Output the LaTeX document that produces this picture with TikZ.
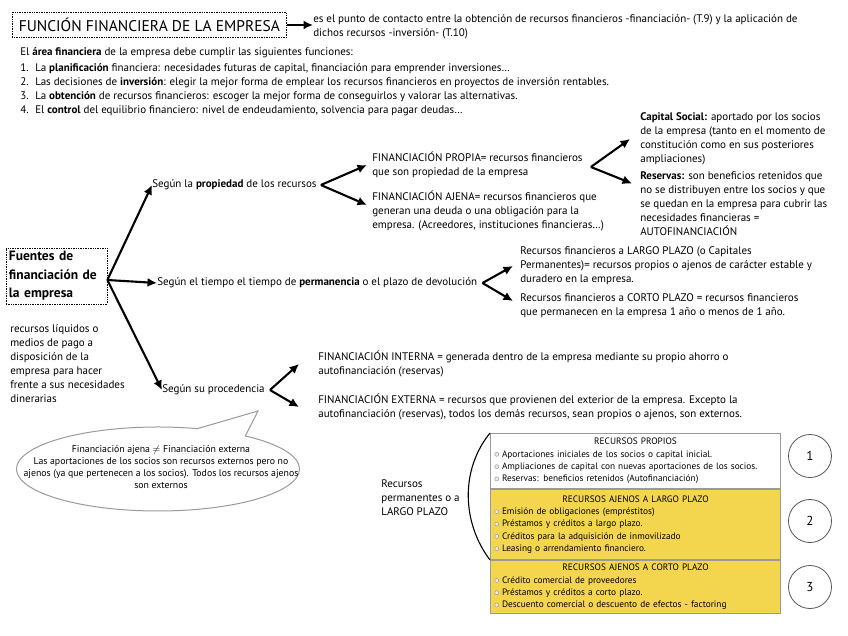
\documentclass[tikz,border=0pt]{standalone}
\usepackage{fontspec}
\setmainfont{PT Sans}
\usetikzlibrary{arrows.meta,shapes.callouts}
\definecolor{amarillo}{HTML}{F3D64E}
\definecolor{borde}{HTML}{9A9A9A}
\definecolor{aro}{HTML}{555555}
\tikzset{pl/.style={x=1pt,y=-1pt,line width=.6pt,font=\fontsize{11}{14}\selectfont},
  txt/.style={anchor=west,inner sep=0pt,align=left},
  flecha/.style={-{Latex[length=9.5pt,width=9pt]},line width=2.1pt},
  punteado/.style={draw,densely dotted,line width=.7pt},
  caja/.style={draw=borde,line width=1pt,minimum width=290pt,inner xsep=4pt,text width=282pt,align=left,anchor=north west,font=\fontsize{9.3}{12.3}\selectfont},
  aro/.style={circle,draw=aro,line width=.8pt,minimum size=43pt,font=\fontsize{13}{13}\selectfont}}
\newcommand\punto{\tikz[baseline=-.6ex]\draw[borde,fill=gray!15,line width=.5pt] (0,0) circle (2pt);\hspace{3pt}}
\newcommand\num[1]{\makebox[15pt][l]{#1}}

\begin{document}
\begin{tikzpicture}[pl]
  \useasboundingbox (0,0) rectangle (848,636);
  % cabecera
  \node[punteado,font=\fontsize{15.5}{17}\selectfont,inner xsep=4pt,minimum width=274pt,minimum height=25pt,anchor=west] (titulo) at (12,25) {FUNCIÓN FINANCIERA DE LA EMPRESA};
  \node[txt] (defin) at (313,27) {es el punto de contacto entre la obtención de recursos financieros -financiación- (T.9) y la aplicación de\\dichos recursos -inversión- (T.10)};
  \draw[flecha] (titulo.east) -- (titulo.east -| defin.west);
  \node[txt] (area) at (20,53) {El \textbf{área financiera} de la empresa debe cumplir las siguientes funciones:};
  \node[txt] (funciones) at (20,89.5) {\num{1.}La \textbf{planificación} financiera: necesidades futuras de capital, financiación para emprender inversiones\dots\\
    \num{2.}Las decisiones de \textbf{inversión}: elegir la mejor forma de emplear los recursos financieros en proyectos de inversión rentables.\\
    \num{3.}La \textbf{obtención} de recursos financieros: escoger la mejor forma de conseguirlos y valorar las alternativas.\\
    \num{4.}El \textbf{control} del equilibrio financiero: nivel de endeudamiento, solvencia para pagar deudas\dots};

  % fuentes
  \node[punteado,font=\fontsize{13.5}{18.5}\selectfont\bfseries,align=left,text width=95pt,minimum width=101pt,minimum height=54pt,inner xsep=3pt] (fuentes) at (56.5,276) {Fuentes de\\financiación de\\la empresa};
  \node[txt] (liquidos) at (10,364) {recursos líquidos o\\medios de pago a\\disposición de la\\empresa para hacer\\frente a sus necesidades\\dinerarias};
  \coordinate (raiz) at ([yshift=-4pt]fuentes.east);
  \node[txt] (prop) at (152,185) {Según la \textbf{propiedad} de los recursos};
  \node[txt] (tiempo) at (157,283) {Según el tiempo el tiempo de \textbf{permanencia} o el plazo de devolución};
  \node[txt] (proced) at (162,390) {Según su procedencia};
  \foreach \d in {prop,tiempo,proced} \draw[flecha] (raiz) -- (\d.west);

  % propiedad
  \node[txt] (fpropia) at (372,165) {FINANCIACIÓN PROPIA= recursos financieros\\que son propiedad de la empresa};
  \node[txt] (fajena) at (372,211) {FINANCIACIÓN AJENA= recursos financieros que\\generan una deuda o una obligación para la\\empresa. (Acreedores, instituciones financieras\dots)};
  \coordinate (v1) at ([xshift=4pt]prop.east);
  \draw[flecha] (v1) -- ([xshift=-5pt]fpropia.west);
  \draw[flecha] (v1) -- ([xshift=-5pt,yshift=6pt]fajena.west);
  \node[txt] (capital) at (640,139) {\textbf{Capital Social:} aportado por los socios\\de la empresa (tanto en el momento de\\constitución como en sus posteriores\\ampliaciones)};
  \node[txt] (reservas) at (640,203.5) {\textbf{Reservas:} son beneficios retenidos que\\no se distribuyen entre los socios y que\\se quedan en la empresa para cubrir las\\necesidades financieras =\\AUTOFINANCIACIÓN};
  \coordinate (v2) at ([xshift=8pt,yshift=-2pt]fpropia.east);
  \draw[flecha] (v2) -- ([xshift=-10pt]capital.west);
  \draw[flecha] (v2) -- ([xshift=-8pt,yshift=20pt]reservas.west);

  % tiempo
  \node[txt] (largo) at (520,266) {Recursos financieros a LARGO PLAZO (o Capitales\\Permanentes)= recursos propios o ajenos de carácter estable y\\duradero en la empresa.};
  \node[txt] (corto) at (520,306) {Recursos financieros a CORTO PLAZO = recursos financieros\\que permanecen en la empresa 1 año o menos de 1 año.};
  \coordinate (v3) at ([xshift=5pt]tiempo.east);
  \draw[flecha] (v3) -- ([xshift=-7pt]largo.west);
  \draw[flecha] (v3) -- ([xshift=-7pt,yshift=5pt]corto.west);

  % procedencia
  \node[txt] (interna) at (318,364) {FINANCIACIÓN INTERNA = generada dentro de la empresa mediante su propio ahorro o\\autofinanciación (reservas)};
  \node[txt] (externa) at (318,407) {FINANCIACIÓN EXTERNA = recursos que provienen del exterior de la empresa. Excepto la\\autofinanciación (reservas), todos los demás recursos, sean propios o ajenos, son externos.};
  \coordinate (v4) at ([xshift=5pt]proced.east);
  \draw[flecha] (v4) -- ([xshift=-19pt]interna.west);
  \draw[flecha] (v4) -- ([xshift=-19pt]externa.west);

  % nota
  \coordinate (punta) at (258,411);
  \node[ellipse callout,draw=borde,line width=1pt,fill=white,minimum width=283pt,minimum height=84pt,callout absolute pointer={(punta)},callout pointer arc=22] (nota) at (158,469) {};
  \node[font=\fontsize{9.8}{12}\selectfont,align=center,inner sep=0pt] (notatxt) at (161,467) {Financiación ajena $\neq$ Financiación externa\\Las aportaciones de los socios son recursos externos pero no\\ajenos (ya que pertenecen a los socios). Todos los recursos ajenos\\son externos};

  % tabla
  \node[txt] (perm) at (381,498) {Recursos\\permanentes o a\\LARGO PLAZO};
  \node[caja,minimum height=55pt] (propios) at (490,433) {\makebox[\linewidth]{RECURSOS PROPIOS}\\
    \punto Aportaciones iniciales de los socios o capital inicial.\\
    \punto Ampliaciones de capital con nuevas aportaciones de los socios.\\
    \punto Reservas: beneficios retenidos (Autofinanciación)};
  \node[caja,fill=amarillo,minimum height=70pt,anchor=north] (ajlp) at (propios.south) {\makebox[\linewidth]{RECURSOS AJENOS A LARGO PLAZO}\\
    \punto Emisión de obligaciones (empréstitos)\\
    \punto Préstamos y créditos a largo plazo.\\
    \punto Créditos para la adquisición de inmovilizado\\
    \punto Leasing o arrendamiento financiero.};
  \node[caja,fill=amarillo,minimum height=53pt,anchor=north] (ajcp) at (ajlp.south) {\makebox[\linewidth]{RECURSOS AJENOS A CORTO PLAZO}\\
    \punto Crédito comercial de proveedores\\
    \punto Préstamos y créditos a corto plazo.\\
    \punto Descuento comercial o descuento de efectos - factoring};
  \draw[line width=1.1pt] (propios.north west) .. controls +(-30,37) and +(-28,-37) .. (ajlp.south west);
  \foreach \n/\y in {1/456,2/521,3/587} \node[aro] (aro\n) at (810,\y) {\n};
\end{tikzpicture}
\end{document}
